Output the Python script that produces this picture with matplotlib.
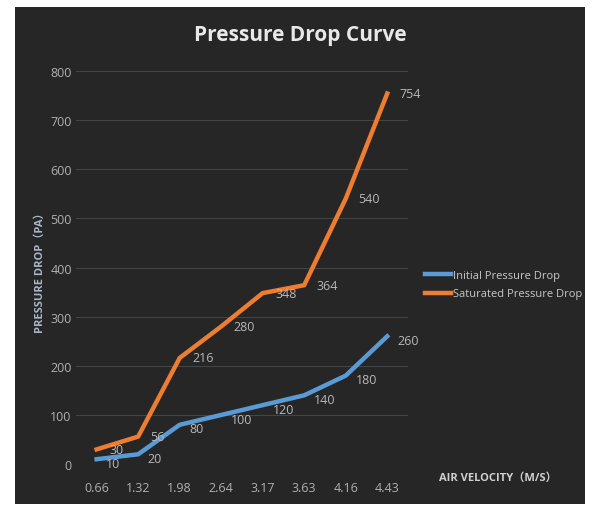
import matplotlib.pyplot as plt
from matplotlib.patches import Rectangle

# 数据
velocity = ['0.66', '1.32', '1.98', '2.64', '3.17', '3.63', '4.16', '4.43']
initial_drop = [10, 20, 80, 100, 120, 140, 180, 260]
saturated_drop = [30, 56, 216, 280, 348, 364, 540, 754]

plt.rcParams['font.family'] = ['Open Sans', 'Noto Sans CJK SC', 'DejaVu Sans']

fig = plt.figure(figsize=(5.93, 5.10), dpi=100)
fig.patch.set_facecolor('white')

# 深色背景面板，放在最底层
bg = fig.add_axes([0, 0, 1, 1], zorder=-10)
bg.set_axis_off()
bg.add_patch(Rectangle((15 / 593, 5 / 510), 570 / 593, 497 / 510,
                       transform=bg.transAxes, facecolor='#262626', edgecolor='none'))

ax = fig.add_axes([0.128, 0.088, 0.56, 0.771], zorder=1)
ax.set_facecolor('none')

x = range(len(velocity))
ax.plot(x, initial_drop, color='#5b9bd5', lw=3.2, label='Initial Pressure Drop', zorder=3)
ax.plot(x, saturated_drop, color='#ed7d31', lw=3.2, label='Saturated Pressure Drop', zorder=3)

# 数据标签
for i, v in enumerate(initial_drop):
    ax.annotate(str(v), (i, v), xytext=(7, -3), textcoords='offset points',
                color='#b8b8b8', fontsize=9, va='center', ha='left')
for i, v in enumerate(saturated_drop):
    ax.annotate(str(v), (i, v), xytext=(9, 0), textcoords='offset points',
                color='#b8b8b8', fontsize=9, va='center', ha='left')

ax.set_xlim(-0.5, len(velocity) - 0.5)
ax.set_ylim(0, 800)
ax.set_yticks(range(0, 801, 100))
ax.set_xticks(list(x))
ax.set_xticklabels(velocity)
ax.grid(axis='y', color='#444444', lw=0.8)
ax.set_axisbelow(True)
for s in ax.spines.values():
    s.set_visible(False)
ax.tick_params(length=0, colors='#b0b0b0', labelsize=9)
ax.tick_params(axis='y', pad=3)
ax.tick_params(axis='x', pad=12)

fig.text(0.506, 0.93, 'Pressure Drop Curve', ha='center', va='center',
         fontsize=15, fontweight='bold', color='#e8e8e8')
fig.text(0.068, 0.47, 'PRESSURE DROP（PA）', rotation=90, ha='center', va='center',
         fontsize=8, fontweight='bold', color='#a9b6c8')
fig.text(0.84, 0.062, 'AIR VELOCITY（M/S）', ha='center', va='center',
         fontsize=8, fontweight='bold', color='#d0d0d0')

leg = ax.legend(loc='center left', bbox_to_anchor=(0.7, 0.44),
                bbox_transform=fig.transFigure, frameon=False,
                fontsize=8, labelcolor='#c8c8c8', handlelength=2.3,
                handletextpad=0.2, labelspacing=0.7)

plt.savefig('out.png', dpi=100, facecolor=fig.get_facecolor())
